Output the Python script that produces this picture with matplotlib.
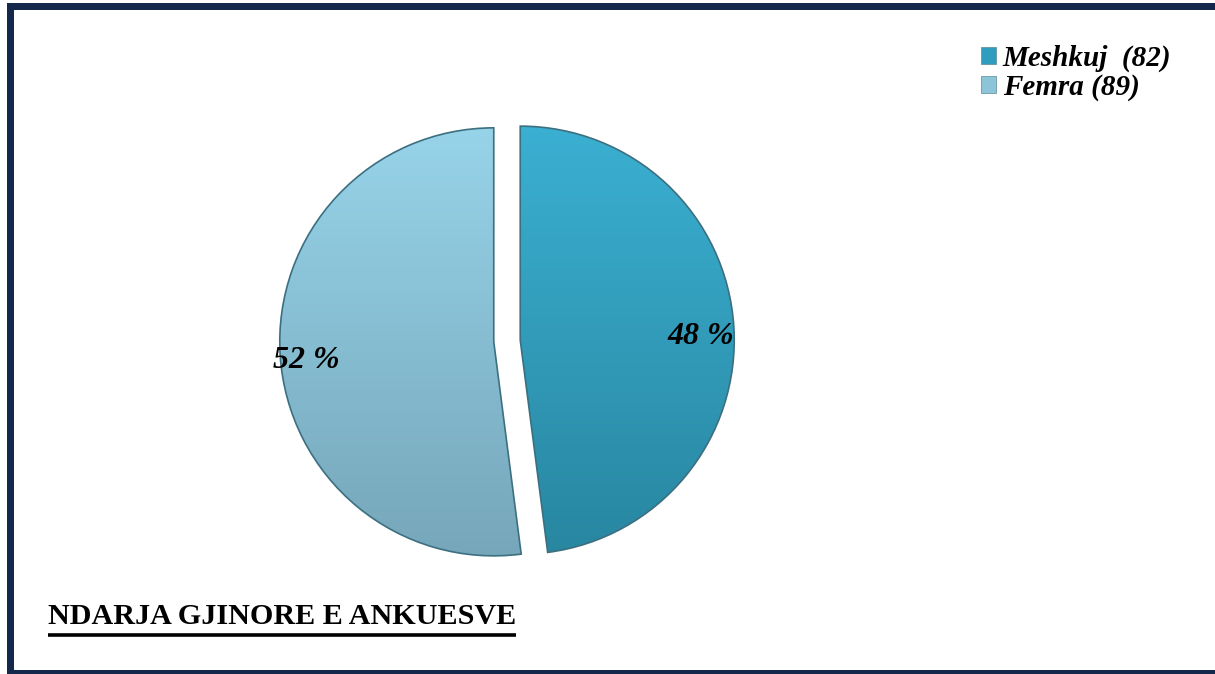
import numpy as np
import matplotlib
matplotlib.use("Agg")
import matplotlib.pyplot as plt
from matplotlib.patches import Rectangle, Patch
from matplotlib.colors import LinearSegmentedColormap

# Data
categories = ["Meshkuj", "Femra"]
counts = [82, 89]
pct_labels = ["48 %", "52 %"]
legend_labels = ["Meshkuj  (82)", "Femra (89)"]
top_colors = ["#3bb0d2", "#97d4ea"]
bottom_colors = ["#2886a0", "#76a6b9"]
legend_colors = ["#2f9dbd", "#8cc4d8"]

W, H = 1215, 674
fig = plt.figure(figsize=(W / 100, H / 100), dpi=100)
fig.patch.set_facecolor("white")
ax = fig.add_axes([0, 0, 1, 1])

cx, cy, r = 507, H - 341, 214
explode_frac = 0.062
wedges, _ = ax.pie(counts, startangle=90, counterclock=False, center=(cx, cy),
                   radius=r, explode=[explode_frac * r] * 2, frame=True,
                   wedgeprops=dict(edgecolor="#3c6f80", linewidth=1.2))

for w, tc, bc in zip(wedges, top_colors, bottom_colors):
    w.set_facecolor("none")
    cmap = LinearSegmentedColormap.from_list("g", [bc, tc])
    grad = np.linspace(0, 1, 256).reshape(-1, 1)
    im = ax.imshow(grad, cmap=cmap, origin="lower", aspect="auto",
                   extent=[cx - r - 40, cx + r + 40, cy - r - 5, cy + r + 5],
                   zorder=0.5)
    im.set_clip_path(w)

ax.set_xlim(0, W)
ax.set_ylim(0, H)
ax.set_aspect("equal")
ax.axis("off")

# percentage labels
fp = dict(family="Liberation Serif", weight="bold", style="italic", size=23)
for lab, dx, dy in zip(pct_labels, [194, -201], [4, -19]):
    ax.text(cx + dx, cy + dy, lab, ha="center", va="center", color="black", zorder=5, **fp)

# legend
handles = [Patch(facecolor=c, edgecolor="#5a8a9a", linewidth=0.5) for c in legend_colors]
leg = fig.legend(handles, legend_labels, loc="upper left",
                 bbox_to_anchor=(981 / W, 1 - 45 / H), frameon=False,
                 prop=dict(family="Liberation Serif", weight="bold", style="italic", size=21),
                 handlelength=0.5, handleheight=0.5, handletextpad=0.25,
                 labelspacing=0.05, borderpad=0, borderaxespad=0)

# title
t = ax.text(48, H - 617, "NDARJA GJINORE E ANKUESVE", ha="left", va="center",
            family="Liberation Serif", weight="bold", size=21.7, color="black")
fig.canvas.draw()
bb = t.get_window_extent()
ax.plot([bb.x0, bb.x1], [H - 635, H - 635], color="black", lw=2.6,
        solid_capstyle="butt")

# border
border = "#13284a"
fig.patches.append(Rectangle((7 / W, 0), 7 / W, 1 - 3 / H, transform=fig.transFigure,
                             facecolor=border, edgecolor="none"))
fig.patches.append(Rectangle((7 / W, 1 - 10 / H), 1, 7 / H, transform=fig.transFigure,
                             facecolor=border, edgecolor="none"))
fig.patches.append(Rectangle((7 / W, 0), 1, 4 / H, transform=fig.transFigure,
                             facecolor=border, edgecolor="none"))

fig.savefig("out.png", dpi=100)
